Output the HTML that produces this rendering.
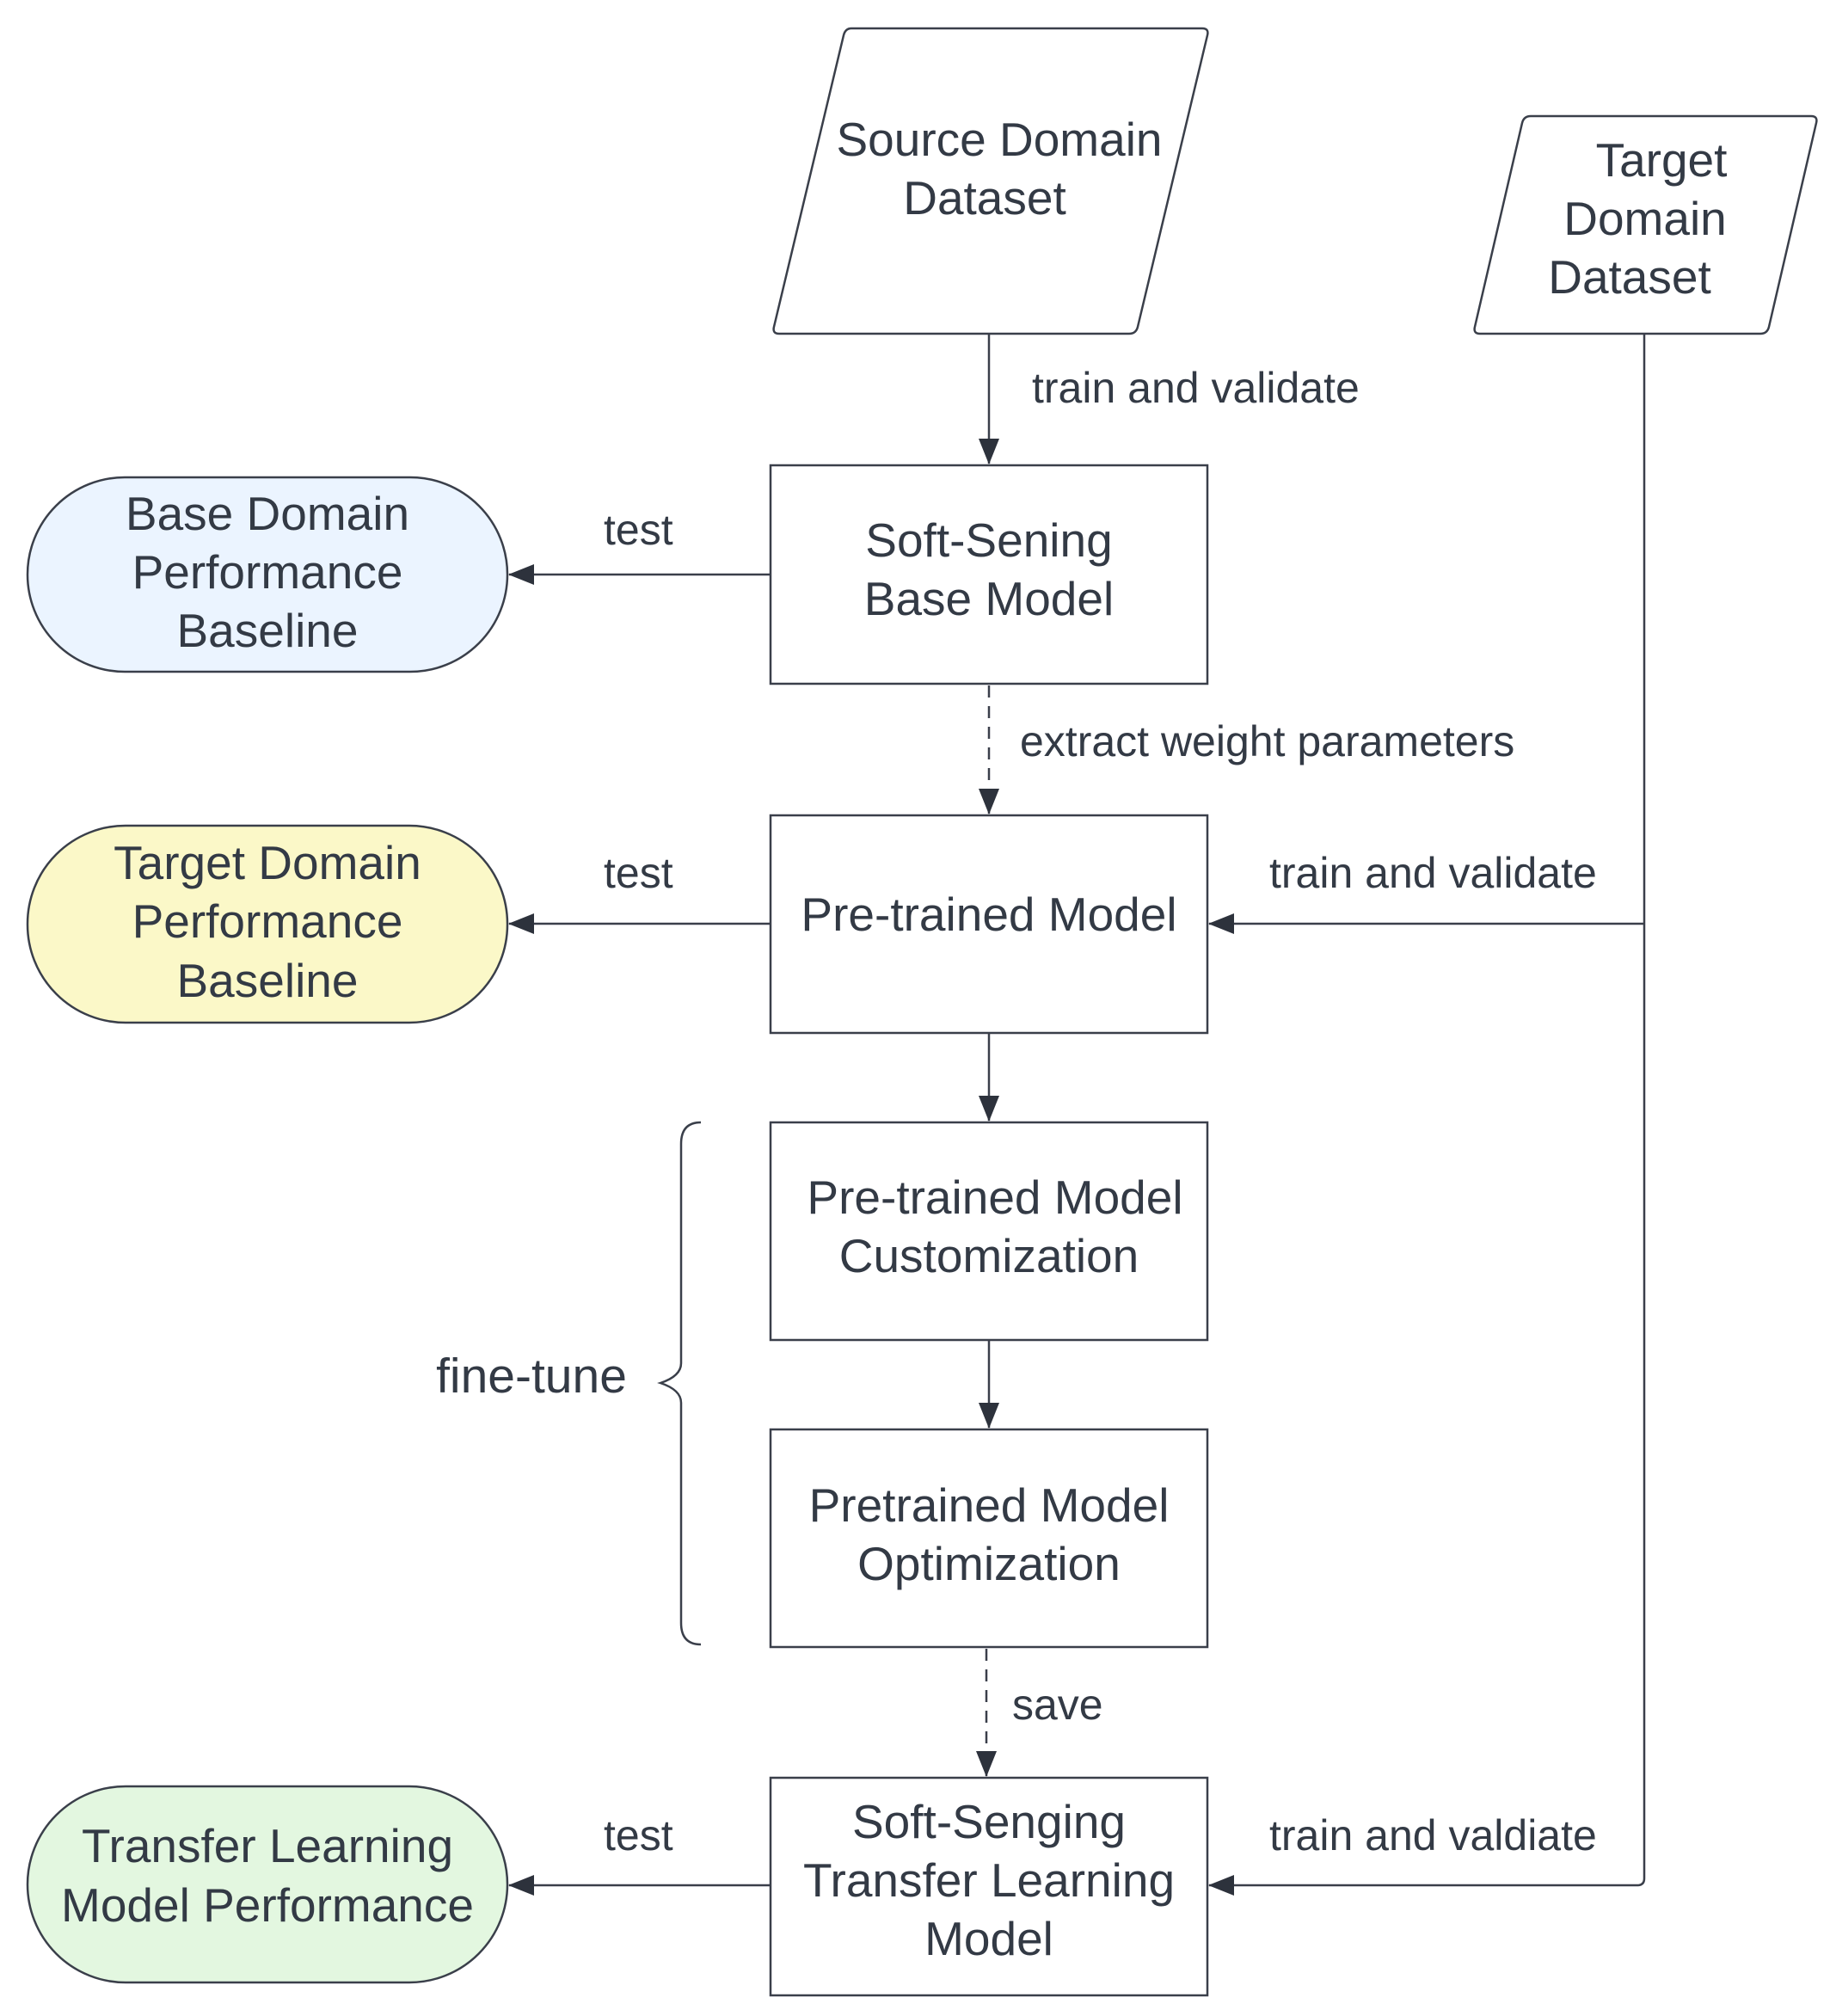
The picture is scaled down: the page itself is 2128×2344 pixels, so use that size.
<!DOCTYPE html>
<html><head><meta charset="utf-8"><style>html,body{margin:0;padding:0;background:#fff}</style></head>
<body>
<svg width="2128" height="2339" viewBox="0 0 2128 2339" xmlns="http://www.w3.org/2000/svg" font-family="Liberation Sans, sans-serif" fill="#333a45">
<defs>
<marker id="a" markerWidth="30" markerHeight="24" refX="29" refY="12" orient="auto" markerUnits="userSpaceOnUse"><path d="M0,0 L30,12 L0,24 Z" fill="#2d323c"/></marker>
</defs>
<g stroke="#3a3f4a" stroke-width="2.5" fill="none">
<path d="M990,33 L1398,33 Q1406,33 1404,41 L1323,380 Q1321,388 1313,388 L906,388 Q898,388 900,380 L981,41 Q983,33 990,33 Z" fill="#fff"/>
<path d="M1780,135 L2106,135 Q2114,135 2112,143 L2057,380 Q2055,388 2047,388 L1721,388 Q1713,388 1715,380 L1770,143 Q1772,135 1780,135 Z" fill="#fff"/>
<rect x="896" y="541" width="508" height="254" fill="#fff"/>
<rect x="896" y="948" width="508" height="253" fill="#fff"/>
<rect x="896" y="1305" width="508" height="253" fill="#fff"/>
<rect x="896" y="1662" width="508" height="253" fill="#fff"/>
<rect x="896" y="2067" width="508" height="253" fill="#fff"/>
<rect x="32" y="555" width="558" height="226" rx="113" fill="#ebf4ff"/>
<rect x="32" y="960" width="558" height="229" rx="114" fill="#fbf8c8"/>
<rect x="32" y="2077" width="558" height="228" rx="114" fill="#e3f7e0"/>
<line x1="1150" y1="388" x2="1150" y2="539" marker-end="url(#a)"/>
<line x1="1150" y1="797" x2="1150" y2="946" stroke-dasharray="14,10" marker-end="url(#a)"/>
<line x1="1150" y1="1201" x2="1150" y2="1303" marker-end="url(#a)"/>
<line x1="1150" y1="1558" x2="1150" y2="1660" marker-end="url(#a)"/>
<line x1="1147" y1="1917" x2="1147" y2="2065" stroke-dasharray="14,10" marker-end="url(#a)"/>
<line x1="896" y1="668" x2="592" y2="668" marker-end="url(#a)"/>
<line x1="896" y1="1074" x2="592" y2="1074" marker-end="url(#a)"/>
<line x1="896" y1="2192" x2="592" y2="2192" marker-end="url(#a)"/>
<path d="M1912,388 L1912,2184 Q1912,2192 1904,2192 L1406,2192" marker-end="url(#a)"/>
<path d="M1912,1074 L1406,1074" marker-end="url(#a)"/>
<path d="M815,1305 Q792,1305 792,1330 L792,1585 Q792,1600 768,1608 Q792,1616 792,1631 L792,1887 Q792,1912 815,1912"/>
</g>
<g font-size="55" text-anchor="middle">
<text x="1162" y="181">Source Domain</text><text x="1145" y="249">Dataset</text>
<text x="1932" y="205">Target</text><text x="1913" y="273">Domain</text><text x="1895" y="341">Dataset</text>
<text x="1150" y="647">Soft-Sening</text><text x="1150" y="715">Base Model</text>
<text x="1150" y="1082">Pre-trained Model</text>
<text x="1157" y="1411">Pre-trained Model</text><text x="1150" y="1479">Customization</text>
<text x="1150" y="1769">Pretrained Model</text><text x="1150" y="1837">Optimization</text>
<text x="1150" y="2137">Soft-Senging</text><text x="1150" y="2205">Transfer Learning</text><text x="1150" y="2273">Model</text>
<text x="311" y="616">Base Domain</text><text x="311" y="684">Performance</text><text x="311" y="752">Baseline</text>
<text x="311" y="1022">Target Domain</text><text x="311" y="1090">Performance</text><text x="311" y="1159">Baseline</text>
<text x="311" y="2165">Transfer Learning</text><text x="311" y="2234">Model Performance</text>
<text x="618" y="1619" font-size="57">fine-tune</text>
</g>
<g font-size="50">
<text x="1200" y="468">train and validate</text>
<text x="702" y="633">test</text>
<text x="702" y="1032">test</text>
<text x="702" y="2151">test</text>
<text x="1186" y="879">extract weight parameters</text>
<text x="1476" y="1032">train and validate</text>
<text x="1476" y="2151">train and valdiate</text>
<text x="1177" y="1999">save</text>
</g>
</svg>
</body></html>
